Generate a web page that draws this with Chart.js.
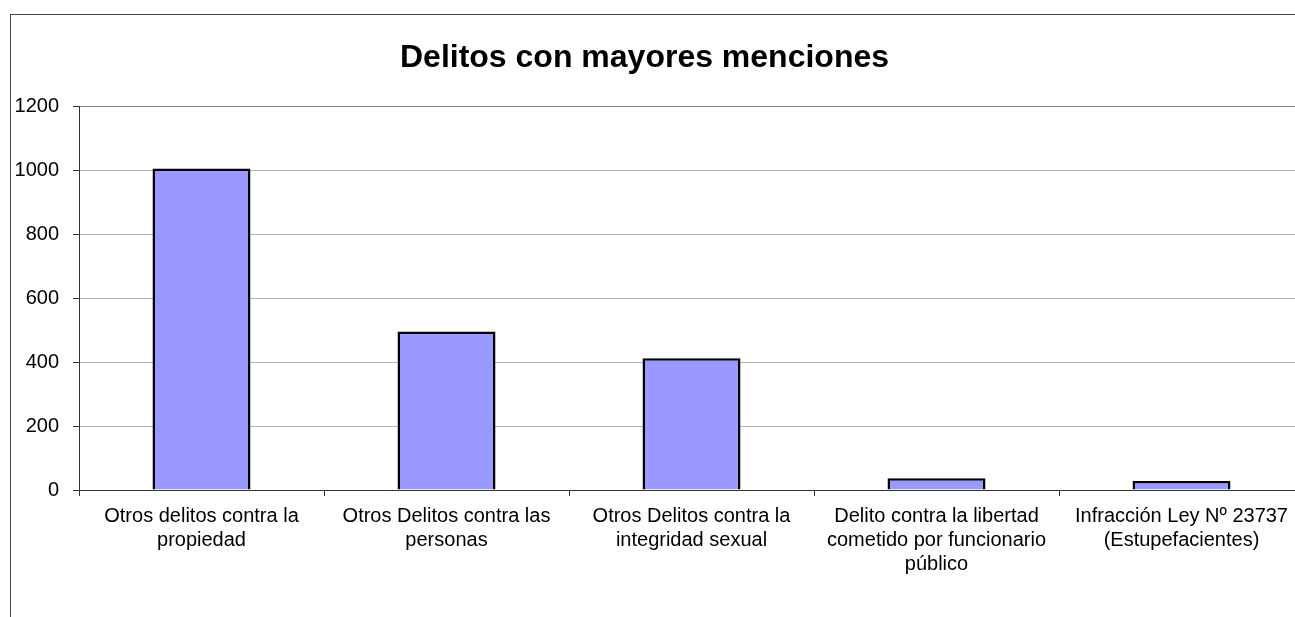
<!DOCTYPE html>
<html lang="es">
<head>
<meta charset="utf-8">
<title>Delitos con mayores menciones</title>
<script src="https://cdn.jsdelivr.net/npm/chart.js@4"></script>
<style>
  html, body { margin: 0; padding: 0; background: #fff; overflow: hidden; }
  body { width: 1295px; height: 617px; position: relative; }
  #marco {
    position: absolute; left: 10px; top: 14px; right: 0; bottom: 0;
    border-left: 1px solid #444; border-top: 1px solid #444;
  }
  #wrap { position: absolute; left: -15px; top: 0; width: 1319px; height: 617px; }
</style>
</head>
<body>
<div id="marco"></div>
<div id="wrap"><canvas id="grafico"></canvas></div>
<script>
// ===================== DATOS ===================== //
const categorias = [
  ['Otros delitos contra la', 'propiedad'],
  ['Otros Delitos contra las', 'personas'],
  ['Otros Delitos contra la', 'integridad sexual'],
  ['Delito contra la libertad', 'cometido por funcionario', 'público'],
  ['Infracción Ley Nº 23737', '(Estupefacientes)']
];
const menciones = [1005, 495, 412, 37, 28];
const ejeY = { min: 0, max: 1200, paso: 200 };

const FUENTE = '"Liberation Sans", Arial, sans-serif';

// ===================== GRÁFICO ===================== //
const canvas = document.getElementById('grafico');
canvas.width = 1319;
canvas.height = 617;
canvas.style.width = '1319px';
canvas.style.height = '617px';

new Chart(canvas.getContext('2d'), {
  type: 'bar',
  data: {
    labels: categorias,
    datasets: [{
      data: menciones,
      backgroundColor: '#9999ff',
      borderColor: '#000',
      borderWidth: 2.5,
      barPercentage: 0.4,
      categoryPercentage: 1
    }]
  },
  options: {
    responsive: false,
    animation: false,
    devicePixelRatio: 1,
    layout: { padding: 0 },
    plugins: {
      legend: { display: false },
      tooltip: { enabled: false },
      title: {
        display: true,
        text: 'Delitos con mayores menciones',
        color: '#000',
        font: { family: FUENTE, size: 32, weight: 'bold', lineHeight: 1.2 },
        padding: { top: 39, bottom: 28.6 }
      }
    },
    scales: {
      x: {
        afterFit: s => { s.height = 127; },
        grid: { drawOnChartArea: false, drawTicks: true, tickLength: 6, color: '#333', offset: true },
        border: { color: '#333', width: 1 },
        ticks: {
          color: '#000', autoSkip: false, maxRotation: 0, minRotation: 0, padding: 8,
          font: { family: FUENTE, size: 20, lineHeight: 1.2 }
        }
      },
      y: {
        min: ejeY.min,
        max: ejeY.max,
        afterFit: s => { s.width = 94; },
        grid: {
          color: ctx => ctx.tick && ctx.tick.value === ejeY.max ? '#808080' : '#b4b4b4',
          tickColor: '#333',
          tickLength: 6
        },
        border: { color: '#333', width: 1 },
        ticks: {
          stepSize: ejeY.paso, color: '#000', padding: 14,
          callback: v => String(v),
          font: { family: FUENTE, size: 20 }
        }
      }
    }
  }
});
</script>
</body>
</html>
